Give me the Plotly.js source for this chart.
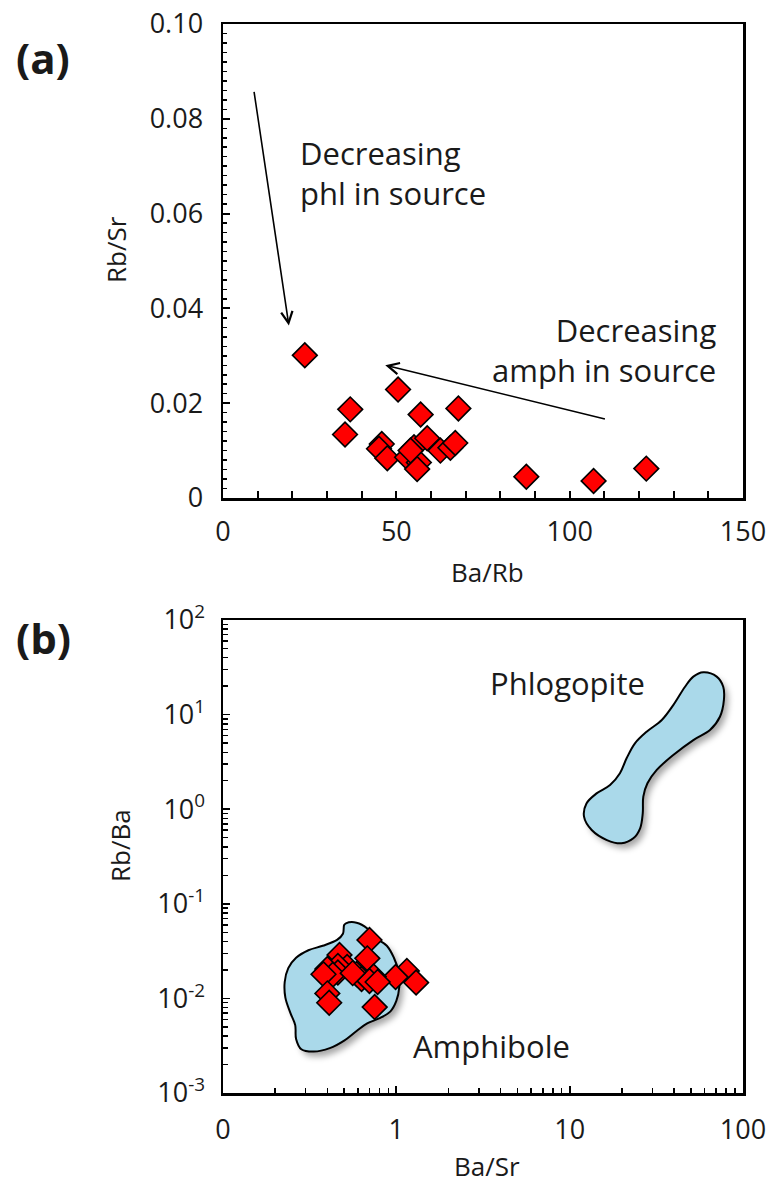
<!DOCTYPE html>
<html>
<head>
<meta charset="utf-8">
<script src="https://cdn.plot.ly/plotly-3.0.1.min.js"></script>
<style>
  html, body { margin: 0; padding: 0; background: #ffffff; }
  #chart { width: 777px; height: 1189px; }
</style>
</head>
<body>
<div id="chart"></div>
<script>
// Panel (a): Ba/Rb versus Rb/Sr
const baRb = [23.6, 36.7, 35.2, 50.5, 57.0, 67.9, 45.8, 45.0, 47.4, 53.1, 55.1,
              56.5, 56.0, 58.9, 62.7, 65.6, 67.0, 54.1, 87.5, 106.9, 122.1];
const rbSr = [0.0301, 0.0187, 0.0134, 0.0229, 0.0176, 0.0189, 0.0114, 0.0104, 0.0084, 0.0086, 0.0107,
              0.0075, 0.0061, 0.0126, 0.0100, 0.0106, 0.0116, 0.0100, 0.0045, 0.0036, 0.0062];

// Panel (b): Ba/Sr versus Rb/Ba
const baSr = [0.70, 0.68, 0.47, 1.15, 0.99, 1.30, 0.52, 0.46, 0.40, 0.46, 0.59,
              0.43, 0.38, 0.74, 0.63, 0.70, 0.78, 0.56, 0.40, 0.41, 0.75];
const rbBa = [0.0414, 0.0265, 0.0288, 0.0195, 0.0168, 0.0147, 0.0215, 0.0220, 0.0205, 0.0188, 0.0181,
              0.0178, 0.0180, 0.0170, 0.0160, 0.0153, 0.0149, 0.0185, 0.0113, 0.0090, 0.0081];

// Mineral fields in panel (b)
const amphFieldBaSr = [0.512, 0.589, 0.680, 0.746, 0.881, 0.968, 1.03, 1.04, 1.00, 0.925, 0.802, 0.679,
                       0.590, 0.500, 0.413, 0.334, 0.283, 0.264, 0.261, 0.245, 0.229, 0.227, 0.238,
                       0.264, 0.311, 0.376, 0.455, 0.492, 0.500];
const amphFieldRbBa = [0.0622, 0.0632, 0.0548, 0.0445, 0.0360, 0.0269, 0.0192, 0.0132, 0.0094, 0.0073,
                       0.00618, 0.00545, 0.00453, 0.00358, 0.00298, 0.00274, 0.0029, 0.00373, 0.00522,
                       0.0070, 0.0102, 0.0149, 0.0209, 0.0269, 0.0323, 0.0360, 0.0416, 0.0483, 0.0596];
const phlFieldBaSr = [59.0, 70.5, 76.9, 77.6, 73.6, 64.5, 51.7, 39.6, 31.8, 28.1, 26.6, 26.4, 25.5, 23.3,
                      19.9, 16.4, 13.4, 12.1, 12.5, 14.3, 17.1, 19.5, 21.3, 23.8, 27.8, 34.0, 39.6,
                      46.3, 51.7];
const phlFieldRbBa = [28.0, 25.2, 19.7, 14.3, 9.5, 6.87, 5.38, 3.74, 2.60, 1.88, 1.36, 0.905, 0.628,
                      0.492, 0.436, 0.472, 0.602, 0.834, 1.15, 1.47, 1.80, 2.40, 3.45, 4.97, 6.59,
                      8.77, 12.6, 19.7, 25.2];

// Tick labels
const rbSrTickVals = [0, 0.02, 0.04, 0.06, 0.08, 0.10];
const rbSrTickText = ['0', '0.02', '0.04', '0.06', '0.08', '0.10'];
const baSrTickVals = [0.1, 1, 10, 100];
const baSrTickText = ['0', '1', '10', '100'];
const rbBaTickVals = [0.001, 0.01, 0.1, 1, 10, 100];
const rbBaTickText = ['10<sup>-3</sup>', '10<sup>-2</sup>', '10<sup>-1</sup>',
                      '10<sup>0</sup>', '10<sup>1</sup>', '10<sup>2</sup>'];

const FONT = 'Open Sans, Lato, sans-serif';
const INK = '#1a1a1a';
const FIELD_FILL = '#aad9ea';

// plot-area pixel frame, used to place the free-floating labels
const W = 777, H = 1189;
const px = v => v / W;
const py = v => 1 - v / H;

const diamond = {
  symbol: 'diamond', size: 19, color: '#ff0000',
  line: { color: '#000000', width: 1.6 }
};

const fieldStyle = {
  mode: 'lines', fill: 'toself', fillcolor: FIELD_FILL,
  line: { color: '#000000', width: 2, shape: 'spline', smoothing: 1 },
  hoverinfo: 'skip'
};

const traces = [
  Object.assign({ x: amphFieldBaSr.concat([amphFieldBaSr[0]]), y: amphFieldRbBa.concat([amphFieldRbBa[0]]),
                  xaxis: 'x2', yaxis: 'y2', name: 'Amphibole' }, fieldStyle),
  Object.assign({ x: phlFieldBaSr.concat([phlFieldBaSr[0]]), y: phlFieldRbBa.concat([phlFieldRbBa[0]]),
                  xaxis: 'x2', yaxis: 'y2', name: 'Phlogopite' }, fieldStyle),
  { x: baRb, y: rbSr, mode: 'markers', marker: diamond, xaxis: 'x', yaxis: 'y', cliponaxis: false },
  { x: baSr, y: rbBa, mode: 'markers', marker: diamond, xaxis: 'x2', yaxis: 'y2', cliponaxis: false }
];

const axisBase = {
  showline: true, mirror: true, linecolor: '#000000', linewidth: 2.5,
  showgrid: false, zeroline: false,
  ticks: 'inside', ticklen: 7, tickwidth: 1.8, tickcolor: '#000000',
  tickfont: { family: FONT, size: 27, color: INK }
};

const xDomain = [px(223), px(743)];

function label(text, x, y, size, extra) {
  return Object.assign({
    text: text, xref: 'paper', yref: 'paper', x: px(x), y: py(y),
    xanchor: 'center', yanchor: 'middle', showarrow: false,
    font: { family: FONT, size: size, color: INK }
  }, extra || {});
}

function note(text, xr, yr, x, y, xanchor) {
  return {
    text: text, xref: xr, yref: yr, x: x, y: y,
    xanchor: xanchor, yanchor: 'middle', align: xanchor, showarrow: false,
    font: { family: FONT, size: 31, color: INK }
  };
}

function trendArrow(x, y, ax, ay) {
  return {
    xref: 'x', yref: 'y', axref: 'x', ayref: 'y', x: x, y: y, ax: ax, ay: ay,
    text: '', showarrow: true, arrowhead: 5, arrowsize: 1.4, arrowwidth: 1.6,
    arrowcolor: '#000000', standoff: 0
  };
}

const layout = {
  width: W, height: H,
  margin: { l: 0, r: 0, t: 0, b: 0 },
  paper_bgcolor: '#ffffff', plot_bgcolor: '#ffffff',
  showlegend: false,
  font: { family: FONT, color: INK },
  xaxis: Object.assign({}, axisBase, {
    domain: xDomain, anchor: 'y', range: [0, 150], tickmode: 'linear', tick0: 0, dtick: 50,
    ticklabelstandoff: 8,
    minor: { dtick: 10, tick0: 0, ticks: 'inside', ticklen: 7, tickwidth: 1.8, tickcolor: '#000000' }
  }),
  yaxis: Object.assign({}, axisBase, {
    domain: [py(498), py(24)], anchor: 'x', range: [0, 0.1],
    tickmode: 'array', tickvals: rbSrTickVals, ticktext: rbSrTickText,
    ticklabelstandoff: 12,
    minor: { dtick: 0.002, tick0: 0, ticks: 'inside', ticklen: 4, tickwidth: 1.5, tickcolor: '#000000' }
  }),
  xaxis2: Object.assign({}, axisBase, {
    domain: xDomain, anchor: 'y2', type: 'log', range: [-1, 2],
    tickmode: 'array', tickvals: baSrTickVals, ticktext: baSrTickText,
    ticklabelstandoff: 11,
    minor: { dtick: 'D1', ticks: 'inside', ticklen: 5, tickwidth: 1.5, tickcolor: '#000000' }
  }),
  yaxis2: Object.assign({}, axisBase, {
    domain: [py(1093), py(620)], anchor: 'x2', type: 'log', range: [-3, 2],
    tickmode: 'array', tickvals: rbBaTickVals, ticktext: rbBaTickText,
    ticklabelstandoff: 10,
    minor: { dtick: 'D1', ticks: 'inside', ticklen: 5, tickwidth: 1.5, tickcolor: '#000000' }
  }),
  annotations: [
    // panel letters
    label('<b>(a)</b>', 43, 57, 42),
    label('<b>(b)</b>', 43, 637, 42),
    // axis titles
    label('Rb/Sr', 116, 250, 26, { textangle: -90 }),
    label('Ba/Rb', 487, 572, 26),
    label('Rb/Ba', 120, 846, 26, { textangle: -90 }),
    label('Ba/Sr', 487, 1166, 26),
    // panel (a) trend arrows and their captions
    trendArrow(19.0, 0.0364, 8.9, 0.086),
    trendArrow(46.8, 0.0280, 110.6, 0.0166),
    note('Decreasing<br>phl in source', 'x', 'y', 21.6, 0.0686, 'left'),
    note('Decreasing<br>amph in source', 'x', 'y', 142.8, 0.0313, 'right'),
    // field names in panel (b)
    note('Phlogopite', 'x2', 'y2', Math.log10(9.66), Math.log10(21.6), 'center'),
    note('Amphibole', 'x2', 'y2', Math.log10(3.52), Math.log10(0.00314), 'center')
  ]
};

Plotly.newPlot('chart', traces, layout, { displayModeBar: false, staticPlot: true }).then(function () {
  // soft drop shadow under the mineral fields
  document.querySelectorAll('#chart .js-fill').forEach(function (p) {
    p.style.filter = 'drop-shadow(4px 5px 3px rgba(0,0,0,0.35))';
  });
});
</script>
</body>
</html>
